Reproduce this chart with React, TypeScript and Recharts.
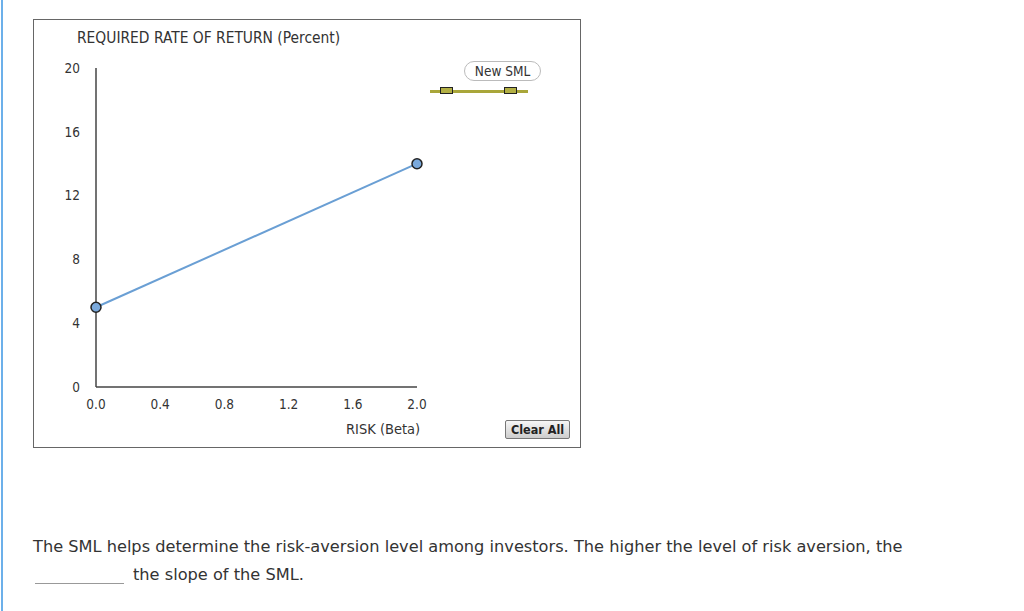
import { LineChart, Line, XAxis, YAxis } from "recharts";

const betaValues = [0, 2.0];
const returnValues = [5, 14];
const xTicks = [0, 0.4, 0.8, 1.2, 1.6, 2.0];
const yTicks = [0, 4, 8, 12, 16, 20];

const smlData = betaValues.map((beta, i) => ({ beta, ret: returnValues[i] }));

const chartFont = "'DejaVu Sans Condensed', 'DejaVu Sans', sans-serif";

const App = () => {
  return (
    <div style={{ position: "absolute", left: 0, top: 0, width: 1024, height: 611 }}>
      {/* blue page edge */}
      <div
        style={{
          position: "absolute",
          left: 1,
          top: 0,
          width: 2,
          height: 611,
          background: "#6cb0ea",
        }}
      />

      {/* graph frame */}
      <div
        style={{
          position: "absolute",
          left: 33,
          top: 19,
          width: 546,
          height: 427,
          border: "1px solid #666",
          background: "#fff",
        }}
      >
        <LineChart
          width={546}
          height={427}
          data={smlData}
          margin={{ top: 48, right: 163, left: 22, bottom: 0 }}
        >
          <XAxis
            dataKey="beta"
            type="number"
            domain={[0, 2]}
            ticks={xTicks}
            tickFormatter={(v: number) => v.toFixed(1)}
            axisLine={{ stroke: "#444", strokeWidth: 1.5 }}
            tickLine={false}
            tickSize={6}
            tickMargin={6}
            tick={{ fill: "#333", fontSize: 13.5, fontFamily: chartFont }}
            height={60}
          />
          <YAxis
            dataKey="ret"
            type="number"
            domain={[0, 20]}
            ticks={yTicks}
            axisLine={{ stroke: "#444", strokeWidth: 1.5 }}
            tickLine={false}
            tickSize={6}
            tickMargin={10}
            width={40}
            tick={{ fill: "#333", fontSize: 13.5, fontFamily: chartFont }}
          />
          <Line
            type="linear"
            dataKey="ret"
            stroke="#6a9fd4"
            strokeWidth={2}
            dot={{ r: 5, fill: "#7aa9dc", stroke: "#222", strokeWidth: 1.5 }}
            isAnimationActive={false}
          />
        </LineChart>

        <div
          style={{
            position: "absolute",
            left: 43,
            top: 9,
            fontFamily: chartFont,
            fontSize: 15.4,
            color: "#333",
            whiteSpace: "nowrap",
          }}
        >
          REQUIRED RATE OF RETURN (Percent)
        </div>

        <div
          style={{
            position: "absolute",
            left: 312,
            top: 401,
            fontFamily: chartFont,
            fontSize: 14.5,
            color: "#333",
            whiteSpace: "nowrap",
          }}
        >
          RISK (Beta)
        </div>

        {/* New SML tool */}
        <div
          style={{
            position: "absolute",
            left: 430,
            top: 41,
            width: 75,
            height: 18,
            border: "1px solid #bbb",
            borderRadius: 10,
            fontFamily: chartFont,
            fontSize: 13.5,
            color: "#333",
            textAlign: "center",
            lineHeight: "18px",
          }}
        >
          New SML
        </div>
        <div
          style={{
            position: "absolute",
            left: 396,
            top: 70,
            width: 98,
            height: 3,
            background: "#a9a63a",
          }}
        />
        {[406, 470].map((l) => (
          <div
            key={l}
            style={{
              position: "absolute",
              left: l,
              top: 67,
              width: 11,
              height: 5,
              background: "#b3b044",
              border: "1.5px solid #222",
            }}
          />
        ))}

        {/* Clear All button */}
        <div
          style={{
            position: "absolute",
            left: 471,
            top: 400,
            width: 63,
            height: 17,
            border: "1px solid #777",
            borderRadius: 2,
            background: "linear-gradient(#f6f6f6, #cdcdcd)",
            fontFamily: chartFont,
            fontWeight: "bold",
            fontSize: 12.5,
            color: "#222",
            textAlign: "center",
            lineHeight: "17px",
          }}
        >
          Clear All
        </div>
      </div>

      {/* question text */}
      <div
        style={{
          position: "absolute",
          left: 33,
          top: 533,
          fontFamily: "'DejaVu Sans', sans-serif",
          fontSize: 16.2,
          color: "#333",
          whiteSpace: "nowrap",
          lineHeight: "28px",
        }}
      >
        The SML helps determine the risk-aversion level among investors. The higher the level of risk aversion, the
      </div>
      <div
        style={{
          position: "absolute",
          left: 35,
          top: 583,
          width: 89,
          height: 1,
          background: "#999",
        }}
      />
      <div
        style={{
          position: "absolute",
          left: 133,
          top: 561,
          fontFamily: "'DejaVu Sans', sans-serif",
          fontSize: 16.2,
          color: "#333",
          whiteSpace: "nowrap",
          lineHeight: "28px",
        }}
      >
        the slope of the SML.
      </div>
    </div>
  );
};

export default App;
